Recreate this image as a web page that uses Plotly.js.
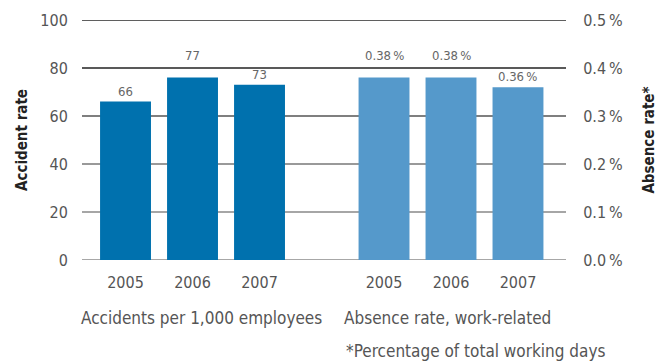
<!DOCTYPE html>
<html>
<head>
<meta charset="utf-8">
<script src="https://cdn.plot.ly/plotly-3.0.1.min.js"></script>
<style>html,body{margin:0;padding:0;background:#fff;}#chart{width:664px;height:362px;}</style>
</head>
<body>
<div id="chart"></div>
<script>
var years = ['2005', '2006', '2007'];
var accidentValues = [66, 76, 73];
var accidentLabels = ['66', '77', '73'];
var absenceValues = [0.38, 0.38, 0.36];
var absenceLabels = ['0.38\u2009%', '0.38\u2009%', '0.36\u2009%'];
var leftTicks = [0, 20, 40, 60, 80, 100];
var rightTicks = [0, 0.1, 0.2, 0.3, 0.4, 0.5];
var rightTickText = ['0.0\u2009%', '0.1\u2009%', '0.2\u2009%', '0.3\u2009%', '0.4\u2009%', '0.5\u2009%'];
var gridColors = ['#8a8a8a', '#888888', '#777777', '#555555', '#222222', '#2a2a2a'];

var FONT = '"DejaVu Sans Condensed", "Roboto", sans-serif';
var LABEL_FONT = {family: FONT, size: 13, color: '#666'};
var PLOT_H = 240; // plot area height in px (362 - 20 - 102)

var traces = [
  {
    type: 'bar', x: years, y: accidentValues, xaxis: 'x', yaxis: 'y',
    marker: {color: '#0071AE'}, hoverinfo: 'none'
  },
  {
    type: 'bar', x: years, y: absenceValues, xaxis: 'x2', yaxis: 'y2',
    marker: {color: '#5599CB'}, hoverinfo: 'none'
  }
];

var shapes = leftTicks.map(function (t, i) {
  return {type: 'line', xref: 'paper', yref: 'y', x0: 0, x1: 1, y0: t, y1: t,
          line: {color: gridColors[i], width: 1.5}, layer: 'below'};
});

// place a value label above its bar; if it would collide with a gridline, lift it above that line
function labelAnchor(v, ticks, maxVal) {
  var pxPerUnit = PLOT_H / maxVal;
  for (var k = 0; k < ticks.length; k++) {
    var d = (ticks[k] - v) * pxPerUnit;
    if (d > 0 && d < 13) return {y: ticks[k], shift: 3};
  }
  return {y: v, shift: 1};
}

var annotations = [];
years.forEach(function (yr, i) {
  var a = labelAnchor(accidentValues[i], leftTicks, 100);
  annotations.push({xref: 'x', yref: 'y', x: i, y: a.y, text: accidentLabels[i],
    showarrow: false, xanchor: 'center', yanchor: 'bottom', yshift: a.shift, font: LABEL_FONT});
  var b = labelAnchor(absenceValues[i], rightTicks, 0.5);
  annotations.push({xref: 'x2', yref: 'y2', x: i, y: b.y, text: absenceLabels[i],
    showarrow: false, xanchor: 'center', yanchor: 'bottom', yshift: b.shift, font: LABEL_FONT});
});
annotations.push(
  {xref: 'paper', yref: 'paper', x: -0.006, y: -0.242, xanchor: 'left', yanchor: 'middle',
   text: 'Accidents per 1,000 employees', showarrow: false,
   font: {family: FONT, size: 17, color: '#555'}},
  {xref: 'paper', yref: 'paper', x: 0.537, y: -0.242, xanchor: 'left', yanchor: 'middle',
   text: 'Absence rate, work-related', showarrow: false,
   font: {family: FONT, size: 17, color: '#555'}},
  {xref: 'paper', yref: 'paper', x: 0.541, y: -0.378, xanchor: 'left', yanchor: 'middle',
   text: '*Percentage of total working days', showarrow: false,
   font: {family: FONT, size: 17, color: '#555'}}
);

var TICK_FONT = {family: FONT, size: 16, color: '#555'};

var layout = {
  width: 664, height: 362,
  margin: {l: 82, r: 98, t: 20, b: 102},
  paper_bgcolor: '#fff', plot_bgcolor: '#fff',
  showlegend: false,
  bargap: 0.24,
  font: {family: FONT, color: '#555'},
  xaxis: {
    domain: [0.0207, 0.436], type: 'category', categoryarray: years, range: [-0.5, 2.5],
    showgrid: false, zeroline: false,
    showline: false, ticks: '', ticklabelstandoff: 11, tickfont: TICK_FONT
  },
  xaxis2: {
    domain: [0.5548, 0.970], type: 'category', categoryarray: years, range: [-0.5, 2.5],
    showgrid: false, zeroline: false,
    showline: false, ticks: '', ticklabelstandoff: 11, anchor: 'y2', tickfont: TICK_FONT
  },
  yaxis: {
    range: [0, 100], tickvals: leftTicks, anchor: 'free', position: 0,
    showgrid: false, zeroline: false,
    showline: false, ticks: 'outside', ticklen: 11, tickcolor: 'rgba(0,0,0,0)', tickfont: TICK_FONT,
    title: {text: 'Accident rate', standoff: 8, font: {family: FONT, size: 15, color: '#222', weight: 'bold'}}
  },
  yaxis2: {
    range: [0, 0.5], tickvals: rightTicks, ticktext: rightTickText,
    overlaying: 'y', side: 'right', anchor: 'free', position: 1,
    showgrid: false, zeroline: false, showline: false,
    ticks: 'outside', ticklen: 13, tickcolor: 'rgba(0,0,0,0)',
    tickfont: TICK_FONT,
    title: {text: 'Absence rate*', standoff: 21, font: {family: FONT, size: 15, color: '#222', weight: 'bold'}}
  },
  shapes: shapes,
  annotations: annotations
};

Plotly.newPlot('chart', traces, layout, {displayModeBar: false, staticPlot: true});
</script>
</body>
</html>
